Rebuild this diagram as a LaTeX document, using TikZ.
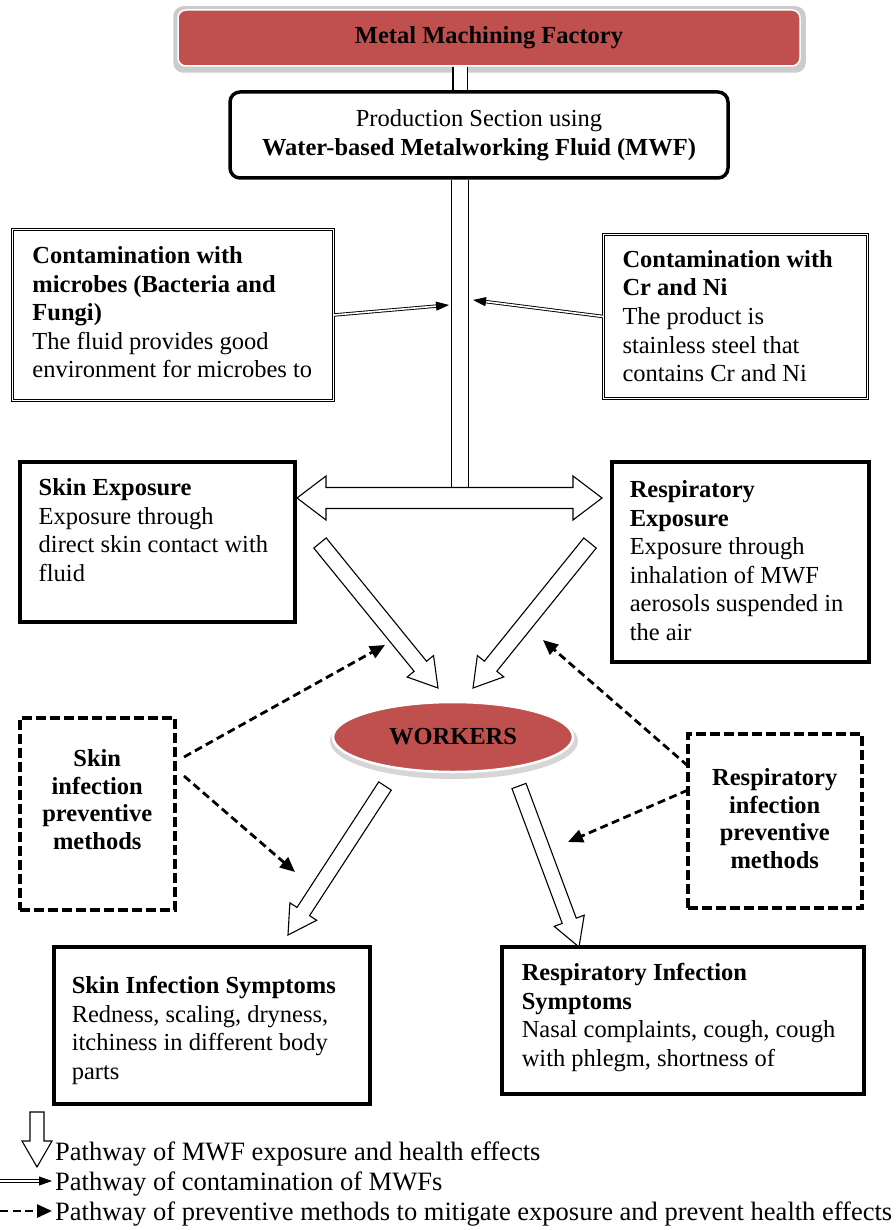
\documentclass[tikz,border=0pt]{standalone}
\usepackage{fontspec}
\setmainfont{Liberation Serif}
\usetikzlibrary{arrows.meta,calc,shapes.geometric}
\definecolor{factoryred}{HTML}{C0504D}
\pgfdeclarelayer{paper}
\pgfdeclarelayer{back}
\pgfsetlayers{paper,back,main}

% text block of a box: width, height, left pad, first baseline, text
\newcommand{\boxcontent}[5]{\begin{minipage}[t][#2][t]{#1}\parindent=0pt\raggedright\leftskip=#3\relax\rule{0pt}{#4}#5\end{minipage}}
% centred text block: width, height, first baseline, text
\newcommand{\centercontent}[4]{\begin{minipage}[t][#2][t]{#1}\parindent=0pt\centering\rule{0pt}{#3}#4\end{minipage}}

% hollow block arrow: tail, tip, half shaft, half head, head length
\newcommand{\hollowarrow}[5]{%
  \coordinate (#1-#2-base) at ($(#2)!#5!(#1)$);
  \filldraw[hollow] ($(#1)!#3!90:(#2)$) -- ($(#1-#2-base)!#3!90:(#2)$)
    -- ($(#1-#2-base)!#4!90:(#2)$) -- (#2) -- ($(#1-#2-base)!#4!-90:(#2)$)
    -- ($(#1-#2-base)!#3!-90:(#2)$) -- ($(#1)!#3!-90:(#2)$) -- cycle;}

\tikzset{
  hollow/.style={draw=black, fill=white, line width=1.1, line join=miter},
  txt/.style={font=\fontsize{24.5}{28.5}\selectfont},
  doublebox/.style={txt, draw, line width=1, double=white, double distance=1.8, inner sep=0pt, anchor=north west},
  thickbox/.style={txt, draw, line width=3.5, fill=white, inner sep=0pt, anchor=north west},
  dashbox/.style={font=\fontsize{24.5}{27.5}\selectfont\bfseries, draw, line width=3.5, dash pattern=on 10pt off 4pt, fill=white, inner sep=0pt, anchor=north west},
  contam/.style={line width=0.9, double=white, double distance=1.6, -{Triangle[length=13pt,width=9pt]}},
  prevent/.style={line width=2.8, dash pattern=on 8pt off 4.5pt, -{Triangle[length=15pt,width=13pt]}},
  shaft/.style={line width=1.2, double=white},
  legendtxt/.style={font=\fontsize{26.5}{30}\selectfont, anchor=base west, inner sep=0pt},
}

\begin{document}
\begin{tikzpicture}[x=1pt,y=-1pt]
\useasboundingbox (0,0) rectangle (895,1230);
\begin{pgfonlayer}{paper}
  \fill[white] (0,0) rectangle (895,1230);
\end{pgfonlayer}

% ---- factory and production section
\node[txt, font=\fontsize{24.5}{28.5}\selectfont\bfseries, fill=factoryred, draw=white, line width=1.5,
      rounded corners=8, minimum width=622, minimum height=56, inner sep=0] (factory) at (489,38) {Metal Machining Factory};
\begin{pgfonlayer}{back}
  \fill[black!20, rounded corners=10] ($(factory.south west)+(-4,6)$) rectangle ($(factory.north east)+(5,-3)$);
\end{pgfonlayer}

\node[txt, draw, line width=3.5, fill=white, rounded corners=10, minimum width=498, minimum height=86,
      align=center, inner sep=0] (prod) at (479,135) {Production Section using\\ \textbf{Water-based Metalworking Fluid (MWF)}};

\coordinate (htop) at (460,488);
\begin{pgfonlayer}{back}
  \draw[shaft, double distance=13] (htop |- factory.south) -- (htop |- prod.north);
  \draw[shaft, double distance=16.5] (htop |- prod.south) -- (htop);
\end{pgfonlayer}

% ---- contamination sources
\node[doublebox] (microbes) at (12,229) {\boxcontent{321pt}{171pt}{20pt}{34pt}{%
  \textbf{Contamination with\\ microbes (Bacteria and\\ Fungi)}\\ The fluid provides good\\ environment for microbes to}};
\node[doublebox] (crni) at (603,234) {\boxcontent{264pt}{164pt}{19pt}{33pt}{%
  \textbf{Contamination with\\ Cr and Ni}\\ The product is\\ stainless steel that\\ contains Cr and Ni}};

\coordinate (cl) at (449,305);
\coordinate (cr) at (473,300);
\draw[contam] (microbes.east) -- (cl);
\draw[contam] (crni.west) -- (cr);

% ---- exposure routes
\node[thickbox] (skinexp) at (18,460) {\boxcontent{275pt}{160pt}{19pt}{34pt}{%
  \textbf{Skin Exposure}\\ Exposure through\\ direct skin contact with\\ fluid}};
\node[thickbox] (respexp) at (610,460) {\boxcontent{257pt}{200pt}{18pt}{36pt}{%
  \textbf{Respiratory\\ Exposure}\\ Exposure through\\ inhalation of MWF\\ aerosols suspended in\\ the air}};

% two-headed arrow towards both exposure routes
\coordinate (hl) at (297,498);
\coordinate (hr) at (602,498);
\filldraw[hollow] (hl) -- ($(hl)+(29,-22)$) -- ($(hl)+(29,-10.5)$) -- ($(hr)+(-29,-10.5)$) -- ($(hr)+(-29,-22)$)
  -- (hr) -- ($(hr)+(-29,22)$) -- ($(hr)+(-29,10.5)$) -- ($(hl)+(29,10.5)$) -- ($(hl)+(29,22)$) -- cycle;

% ---- workers
\node[ellipse, fill=factoryred, draw=white, line width=2.5, minimum width=240, minimum height=70, inner sep=0,
      font=\fontsize{24.5}{28.5}\selectfont\bfseries] (workers) at (453,737) {WORKERS};
\begin{pgfonlayer}{back}
  \fill[black!16] (454,741) ellipse (124 and 38);
\end{pgfonlayer}

\coordinate (ua1) at (320,543);
\coordinate (ua1tip) at (438,688);
\coordinate (ua2) at (590,543);
\coordinate (ua2tip) at (473,688);
\hollowarrow{ua1}{ua1tip}{8pt}{17pt}{28pt}
\hollowarrow{ua2}{ua2tip}{8pt}{17pt}{28pt}

% ---- preventive methods
\node[dashbox] (skinprev) at (18,716) {\centercontent{155pt}{192pt}{49pt}{Skin\\ infection\\ preventive\\ methods}};
\node[dashbox] (respprev) at (686,732) {\centercontent{174pt}{174pt}{52pt}{Respiratory\\ infection\\ preventive\\ methods}};

\coordinate (sp1) at (184,757);
\coordinate (sp2) at (184,776);
\coordinate (sd1) at (385,645);
\coordinate (sd2) at (295,872);
\coordinate (rp1) at (688,766);
\coordinate (rp2) at (688,790);
\coordinate (rd1) at (543,640);
\coordinate (rd2) at (568,842);
\draw[prevent] (sp1) -- (sd1);
\draw[prevent] (sp2) -- (sd2);
\draw[prevent] (rp1) -- (rd1);
\draw[prevent] (rp2) -- (rd2);

% ---- health effects
\node[thickbox] (skinsym) at (52,945) {\boxcontent{316pt}{157pt}{18pt}{47pt}{%
  \textbf{Skin Infection Symptoms}\\ Redness, scaling, dryness,\\ itchiness in different body\\ parts}};
\node[thickbox] (respsym) at (500,945) {\boxcontent{362pt}{147pt}{20pt}{34pt}{%
  \textbf{Respiratory Infection\\ Symptoms}\\ Nasal complaints, cough, cough\\ with phlegm, shortness of}};

\coordinate (la1) at (385,786);
\coordinate (la1tip) at (288,935);
\coordinate (la2) at (519,786);
\coordinate (la2tip) at (579,947);
\hollowarrow{la1}{la1tip}{7.5pt}{16pt}{28pt}
\hollowarrow{la2}{la2tip}{7.5pt}{16pt}{28pt}

% ---- legend
\coordinate (k1) at (37,1112);
\coordinate (k1tip) at (37,1167);
\hollowarrow{k1}{k1tip}{7pt}{15pt}{26pt}
\node[legendtxt] (l1) at (55,1160) {Pathway of MWF exposure and health effects};

\coordinate (k2) at (0,1181);
\coordinate (k2tip) at (52,1181);
\draw[contam] (k2) -- (k2tip);
\node[legendtxt] (l2) at (55,1190) {Pathway of contamination of MWFs};

\coordinate (k3) at (0,1211);
\coordinate (k3tip) at (52,1211);
\draw[prevent] (k3) -- (k3tip);
\node[legendtxt] (l3) at (55,1220) {Pathway of preventive methods to mitigate exposure and prevent health effects};
\end{tikzpicture}
\end{document}
